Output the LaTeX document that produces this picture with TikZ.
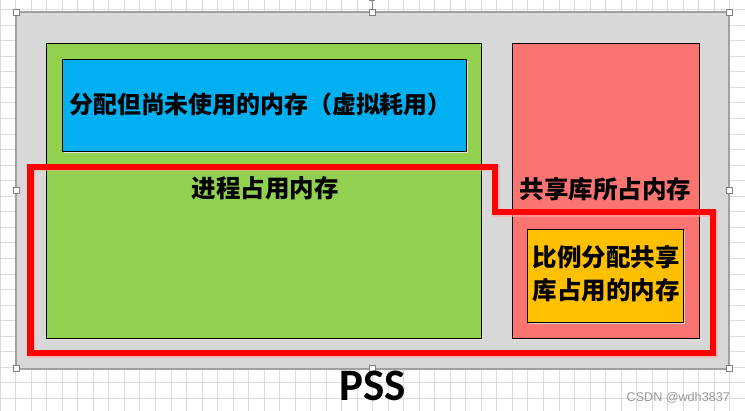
\documentclass[tikz,border=0pt]{standalone}
\usepackage{fontspec}
\newfontfamily\cjk{Noto Sans CJK SC}
\newfontfamily\calib{Carlito}
\newfontfamily\wmfont{Liberation Sans}
\definecolor{gridc}{HTML}{DCDCDC}
\definecolor{panel}{HTML}{D8D8D8}
\definecolor{panelborder}{HTML}{A0A0A0}
\definecolor{greenc}{HTML}{92D050}
\definecolor{bluec}{HTML}{00B0F0}
\definecolor{redc}{HTML}{FA7472}
\definecolor{orangec}{HTML}{FFC000}
\definecolor{handlec}{HTML}{808080}
\tikzset{
  box/.style={draw=black, line width=0.9pt, inner sep=0pt, outer sep=0pt},
  shadowbox/.style={fill=black!12, draw=none, inner sep=0pt, outer sep=0pt},
  handle/.style={draw=handlec, fill=white, line width=0.6pt, minimum size=6pt, inner sep=0pt},
  cjktext/.style={font=\cjk\bfseries\fontsize{24.5}{33}\selectfont, text=black, inner sep=0pt, align=center},
}
\begin{document}
\begin{tikzpicture}[x=1pt,y=-1pt]
\useasboundingbox (0,0) rectangle (745,411);
\fill[white] (0,0) rectangle (745,411);
% grid
\foreach \k in {0,...,48} {\draw[gridc, line width=0.8pt] ({0.2+15.52*\k},0) -- ({0.2+15.52*\k},411);}
\foreach \k in {0,...,25} {\draw[gridc, line width=0.8pt] (0,{9.6+15.55*\k}) -- (745,{9.6+15.55*\k});}
% panel
\node[fill=panel, draw=panelborder, line width=1.2pt, minimum width=713pt, minimum height=357pt, inner sep=0pt] (panel) at (372.5,190.5) {};
% shadows
\node[shadowbox, minimum width=435pt, minimum height=295pt] at (265.5,192.5) {};
\node[shadowbox, minimum width=187pt, minimum height=295pt] at (607.5,192.5) {};
% boxes
\node[box, fill=greenc, minimum width=435pt, minimum height=295pt] (green) at (263.5,190.5) {};
\node[shadowbox, minimum width=404pt, minimum height=92pt] at (266,107) {};
\node[box, fill=bluec, minimum width=404pt, minimum height=92pt] (blue) at (264,105) {};
\node[box, fill=redc, minimum width=187pt, minimum height=295pt] (red) at (605.5,190.5) {};
\node[shadowbox, fill=black!18, minimum width=156pt, minimum height=93pt] at (607,277.5) {};
\node[box, fill=orangec, minimum width=156pt, minimum height=93pt] (orange) at (605,275.5) {};
% texts
\node[cjktext, font=\cjk\bfseries\fontsize{23.9}{33}\selectfont] (tblue) at (260.5,104) {分配但尚未使用的内存（虚拟耗用）};
\node[cjktext] (tgreen) at (265,188) {进程占用内存};
\node[cjktext] (tred) at (605.5,189) {共享库所占内存};
\node[cjktext] (torange) at (606,273.5) {比例分配共享\\库占用的内存};
% red outline
\draw[red!35, line width=6.5pt, opacity=0.6] (31.5,168) -- (496.5,168) -- (496.5,213.5) -- (714.5,213.5) -- (714.5,354.5) -- (31.5,354.5) -- cycle;
\draw[red, line width=6.5pt] (30.5,167) -- (495,167) -- (495,212) -- (713,212) -- (713,353) -- (30.5,353) -- cycle;
% handles
\draw[handlec, line width=0.8pt] (372,0.5) -- (372,9);
\draw[handlec, line width=0.8pt] (369,0.6) -- (375,0.6);
\foreach \p/\n in {{16,12}/h1,{372,12}/h2,{729,12}/h3,{16,190}/h4,{729,190}/h5,{16,368.5}/h6,{372,368.5}/h7,{729,368.5}/h8}
  {\node[handle] (\n) at (\p) {};}
% PSS
\node[font=\calib\bfseries\fontsize{45}{45}\selectfont, inner sep=0pt, text height=29pt, text depth=0pt, anchor=base] (pss) at (372.5,401) {PSS};
% watermark
\node[font=\wmfont\fontsize{12.6}{13}\selectfont, text=black!40, inner sep=0pt, anchor=east] (wm) at (730,397.5) {CSDN @wdh3837};
\end{tikzpicture}
\end{document}
